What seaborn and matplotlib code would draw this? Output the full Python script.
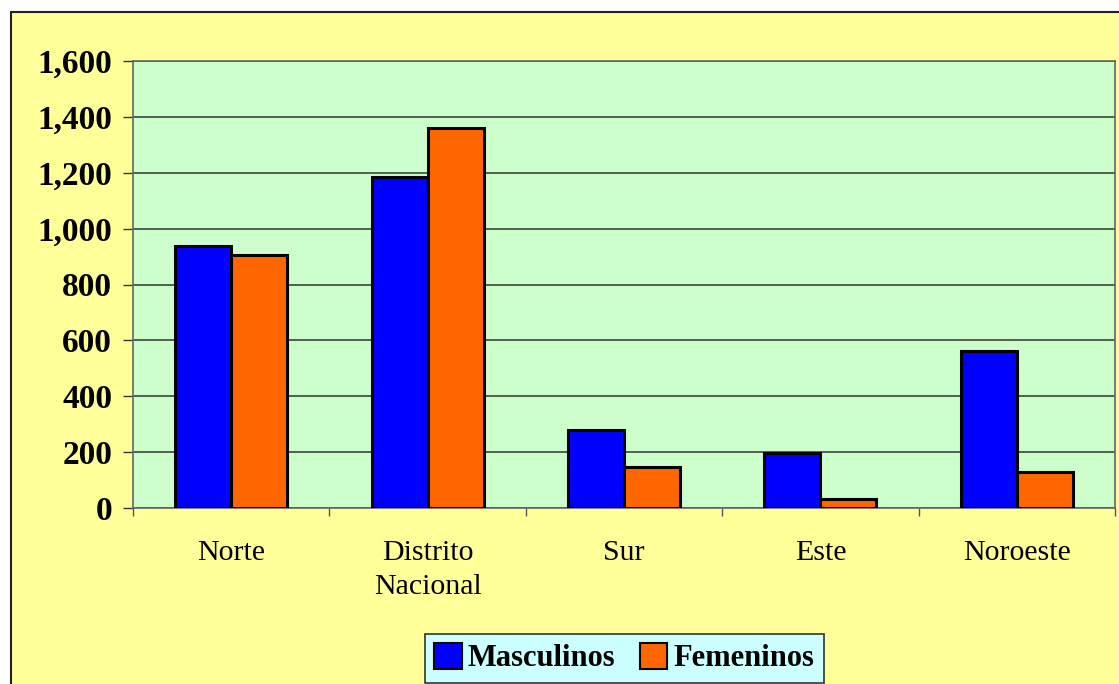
import seaborn as sns
import matplotlib.pyplot as plt
import pandas as pd
from matplotlib.patches import Rectangle, Patch

# Data
regions = ["Norte", "Distrito\nNacional", "Sur", "Este", "Noroeste"]
masculinos = [938, 1185, 279, 198, 562]
femeninos = [905, 1360, 147, 31, 130]
series_names = ["Masculinos", "Femeninos"]
y_ticks = [0, 200, 400, 600, 800, 1000, 1200, 1400, 1600]

colors = {"Masculinos": "#0000FF", "Femeninos": "#FF6600"}

# Long format table for seaborn
df = pd.DataFrame({
    "region": regions * 2,
    "valor": masculinos + femeninos,
    "sexo": [series_names[0]] * len(regions) + [series_names[1]] * len(regions),
})

sns.set_style("white")
plt.rcParams["font.family"] = ["Liberation Serif", "DejaVu Serif"]
plt.rcParams["text.color"] = "black"
plt.rcParams["xtick.color"] = "black"
plt.rcParams["ytick.color"] = "black"

fig = plt.figure(figsize=(11.19, 6.84), dpi=100)
fig.patch.set_facecolor("white")

# Yellow chart area with dark border (starts a bit inside top-left corner)
bg = Rectangle((11 / 1119, -0.1), 1.2, 1 - 12 / 684 + 0.1, transform=fig.transFigure,
               facecolor="#FFFF99", edgecolor="#222222", linewidth=1.5, zorder=-10)
fig.patches.append(bg)

ax = fig.add_axes([133 / 1119, 1 - 508 / 684, (1115 - 133) / 1119, (508 - 61) / 684])
ax.set_facecolor("#CCFFCC")

sns.barplot(data=df, x="region", y="valor", hue="sexo", palette=colors, saturation=1,
            width=0.57, gap=0, edgecolor="black", linewidth=2.2,
            ax=ax, legend=False, zorder=3)

ax.set_ylim(0, 1600)
ax.set_xlim(-0.5, len(regions) - 0.5)
ax.set_yticks(y_ticks)
ax.set_yticklabels([f"{v:,}" for v in y_ticks], fontsize=24, fontweight="bold")
ax.set_xticks(range(len(regions)))
ax.set_xticklabels(regions, fontsize=21.5, linespacing=1.42)
ax.set_xticks([i - 0.5 for i in range(len(regions) + 1)], minor=True)
ax.tick_params(axis="x", which="major", length=0, pad=23)
ax.tick_params(axis="x", which="minor", length=6, width=1, color="#555555", direction="out", bottom=True)
ax.tick_params(axis="y", length=7, width=1, color="#333333", labelcolor="black",
               direction="out", left=True, pad=8)
ax.tick_params(axis="x", labelcolor="black")

ax.yaxis.grid(True, color="#333333", linewidth=1.1)
ax.set_axisbelow(True)
for side in ["top", "right", "left", "bottom"]:
    ax.spines[side].set_color("#666666")
    ax.spines[side].set_linewidth(1.2)
ax.set_xlabel("")
ax.set_ylabel("")

handles = [Patch(facecolor=colors[s], edgecolor="black", linewidth=1.5) for s in series_names]
leg = fig.legend(handles, series_names, loc="upper center", bbox_to_anchor=(0.558, 1 - 634 / 684),
                 ncol=2, frameon=True, fancybox=False, handlelength=0.9, handleheight=0.9,
                 handletextpad=0.2, columnspacing=0.8, borderpad=0.3, borderaxespad=0,
                 prop={"family": "Liberation Serif", "weight": "bold", "size": 22})
leg.get_frame().set_facecolor("#CCFFFF")
leg.get_frame().set_edgecolor("#333333")
leg.get_frame().set_linewidth(1.2)
leg.get_frame().set_alpha(1)
for t in leg.get_texts():
    t.set_color("black")

fig.savefig("out.png", dpi=100)
